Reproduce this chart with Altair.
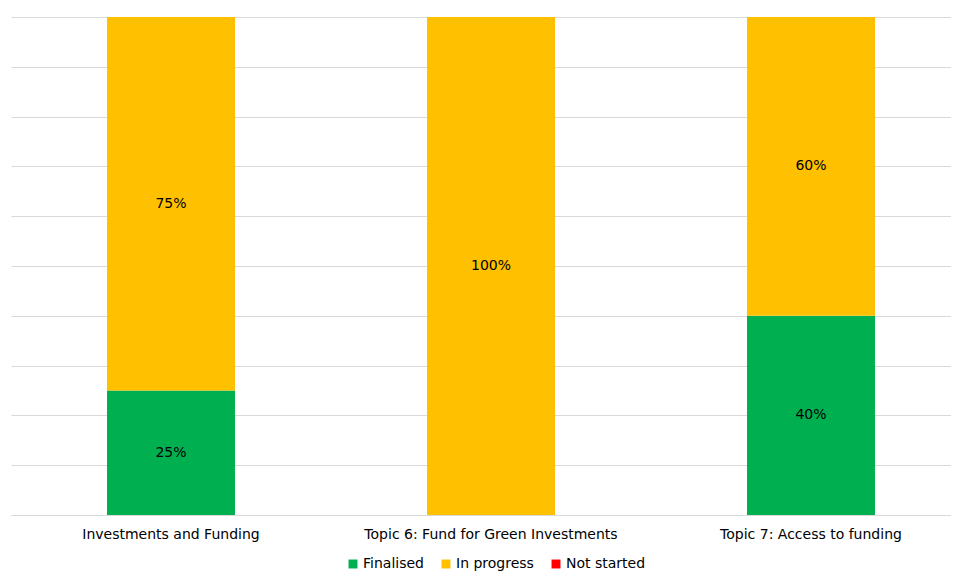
import altair as alt
import pandas as pd

categories = ["Investments and Funding", "Topic 6: Fund for Green Investments", "Topic 7: Access to funding"]
statuses = ["Finalised", "In progress", "Not started"]
finalised = [25, 0, 40]
in_progress = [75, 100, 60]
not_started = [0, 0, 0]
colors = ["#00B050", "#FFC000", "#FF0000"]

rows = []
for i, c in enumerate(categories):
    for j, (s, vals) in enumerate(zip(statuses, [finalised, in_progress, not_started])):
        rows.append({"cat": c, "status": s, "order": j, "value": vals[i]})
df = pd.DataFrame(rows)

FONT = "DejaVu Sans"

x_scale = alt.Scale(paddingInner=0.6, paddingOuter=0.26875, align=0.5581)

x_enc = alt.X(
    "cat:N", sort=categories, scale=x_scale,
    axis=alt.Axis(title=None, labelAngle=0, ticks=False, domainColor="#D9D9D9",
                  labelFont=FONT, labelFontSize=14, labelColor="#000000", labelPadding=12,
                  labelLimit=0),
)

bars = alt.Chart(df).mark_bar().encode(
    x=x_enc,
    y=alt.Y("value:Q", stack="zero", scale=alt.Scale(domain=[0, 100]),
            axis=alt.Axis(title=None, labels=False, ticks=False, domain=False,
                          values=list(range(0, 101, 10)), gridColor="#D9D9D9")),
    color=alt.Color("status:N", scale=alt.Scale(domain=statuses, range=colors),
                    legend=alt.Legend(title=None, orient="none", direction="horizontal",
                                      legendX=335, legendY=540, symbolType="square",
                                      symbolSize=80, symbolStrokeWidth=0,
                                      labelFont=FONT, labelFontSize=14, labelColor="#000000",
                                      columnPadding=15, labelOffset=3)),
    order=alt.Order("order:Q"),
)

texts = alt.Chart(df).transform_filter("datum.value > 0").transform_stack(
    stack="value", groupby=["cat"], as_=["y0", "y1"], sort=[alt.SortField("order")]
).transform_calculate(
    mid="(datum.y0 + datum.y1) / 2", label="datum.value + '%'"
).mark_text(font=FONT, fontSize=14, color="#000000").encode(
    x=alt.X("cat:N", sort=categories, scale=x_scale),
    y=alt.Y("mid:Q"),
    text="label:N",
)

chart = alt.layer(bars, texts).properties(
    width=940, height=498,
    autosize=alt.AutoSizeParams(type="none"),
    padding={"left": 3, "top": 9, "right": 0, "bottom": 56},
).configure_view(stroke=None)

chart.save("out.html", embed_options={"renderer": "svg", "actions": False})
